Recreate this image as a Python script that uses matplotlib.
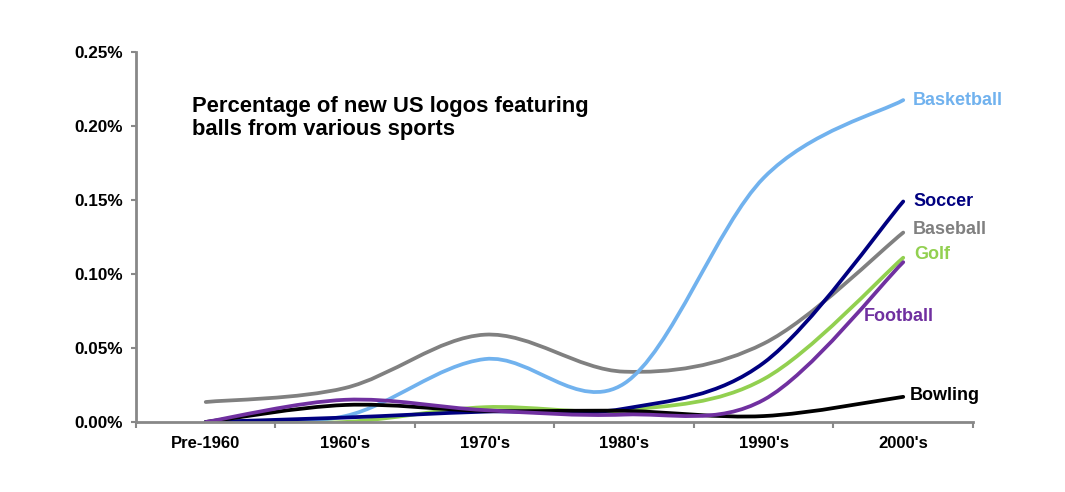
"""Percentage of new US logos featuring balls from various sports."""

import matplotlib

matplotlib.use("Agg")

import numpy as np  # noqa: E402
from matplotlib import pyplot as plt  # noqa: E402
from matplotlib.patches import PathPatch  # noqa: E402
from matplotlib.path import Path  # noqa: E402
from matplotlib.ticker import FuncFormatter, MultipleLocator  # noqa: E402

CATEGORIES = ["Pre-1960", "1960's", "1970's", "1980's", "1990's", "2000's"]

# values in percent
BASEBALL = [0.0135, 0.023, 0.059, 0.034, 0.053, 0.128]
BASKETBALL = [0.0, 0.004, 0.0425, 0.026, 0.165, 0.2175]
GOLF = [0.0, 0.0, 0.010, 0.008, 0.029, 0.111]
SOCCER = [0.0, 0.003, 0.007, 0.009, 0.040, 0.149]
FOOTBALL = [0.0, 0.015, 0.008, 0.005, 0.015, 0.108]
BOWLING = [0.0, 0.0115, 0.0075, 0.0075, 0.004, 0.017]

SERIES = [
    ("Baseball", BASEBALL, "#808080"),
    ("Basketball", BASKETBALL, "#71B2EE"),
    ("Golf", GOLF, "#92D050"),
    ("Soccer", SOCCER, "#000080"),
    ("Bowling", BOWLING, "#000000"),
    ("Football", FOOTBALL, "#7030A0"),
]

# label anchor positions (x in category units, y in percent)
LABEL_POS = {
    "Basketball": (5.07, 0.217),
    "Soccer": (5.07, 0.149),
    "Baseball": (5.07, 0.130),
    "Golf": (5.08, 0.113),
    "Football": (4.72, 0.071),
    "Bowling": (5.05, 0.018),
}

plt.rcParams["font.family"] = ["Liberation Sans", "DejaVu Sans"]
plt.rcParams["font.weight"] = "bold"


def smooth_path(xs, ys):
    """Excel-style smoothed line as cubic Bezier path."""
    pts = np.column_stack([xs, ys]).astype(float)
    n = len(pts)
    verts = [pts[0]]
    codes = [Path.MOVETO]
    for i in range(n - 1):
        p0 = pts[max(i - 1, 0)]
        p1 = pts[i]
        p2 = pts[i + 1]
        p3 = pts[min(i + 2, n - 1)]
        c1 = p1 + (p2 - p0) / 6.0
        c2 = p2 - (p3 - p1) / 6.0
        verts += [c1, c2, p2]
        codes += [Path.CURVE4] * 3
    return Path(verts, codes)


fig = plt.figure(figsize=(10.65, 4.92), dpi=100)
ax = fig.add_axes([0.1277, 0.1423, 0.9136 - 0.1277, 0.8943 - 0.1423])

x = np.arange(len(CATEGORIES))
for name, values, color in SERIES:
    patch = PathPatch(
        smooth_path(x, values),
        facecolor="none",
        edgecolor=color,
        lw=2.7,
        capstyle="round",
        joinstyle="round",
    )
    ax.add_patch(patch)
    lx, ly = LABEL_POS[name]
    ax.text(lx, ly, name, color=color, fontsize=13, fontweight="bold",
            ha="left", va="center")

ax.set_xlim(-0.5, 5.5)
ax.set_ylim(0, 0.25)
ax.yaxis.set_major_locator(MultipleLocator(0.05))
ax.yaxis.set_major_formatter(FuncFormatter(lambda v, _: f"{v:.2f}%"))
ax.set_xticks(x)
ax.set_xticklabels(CATEGORIES)
ax.set_xticks(np.arange(-0.5, 6.0, 1.0), minor=True)
ax.tick_params(axis="x", which="major", length=0, pad=10, labelsize=12)
ax.tick_params(axis="x", which="minor", length=4, width=1.5,
               color="#888888", direction="out")
ax.tick_params(axis="y", length=3.5, width=1.5, color="#888888",
               direction="out", labelsize=12.3, pad=6)
for label in ax.get_xticklabels() + ax.get_yticklabels():
    label.set_fontweight("bold")

for side in ("top", "right"):
    ax.spines[side].set_visible(False)
for side in ("left", "bottom"):
    ax.spines[side].set_color("#888888")
    ax.spines[side].set_linewidth(2)

ax.text(-0.10, 0.2055, "Percentage of new US logos featuring\nballs from various sports",
        fontsize=15.8, fontweight="bold", ha="left", va="center",
        linespacing=1.1)

fig.savefig("out.png", dpi=100)
